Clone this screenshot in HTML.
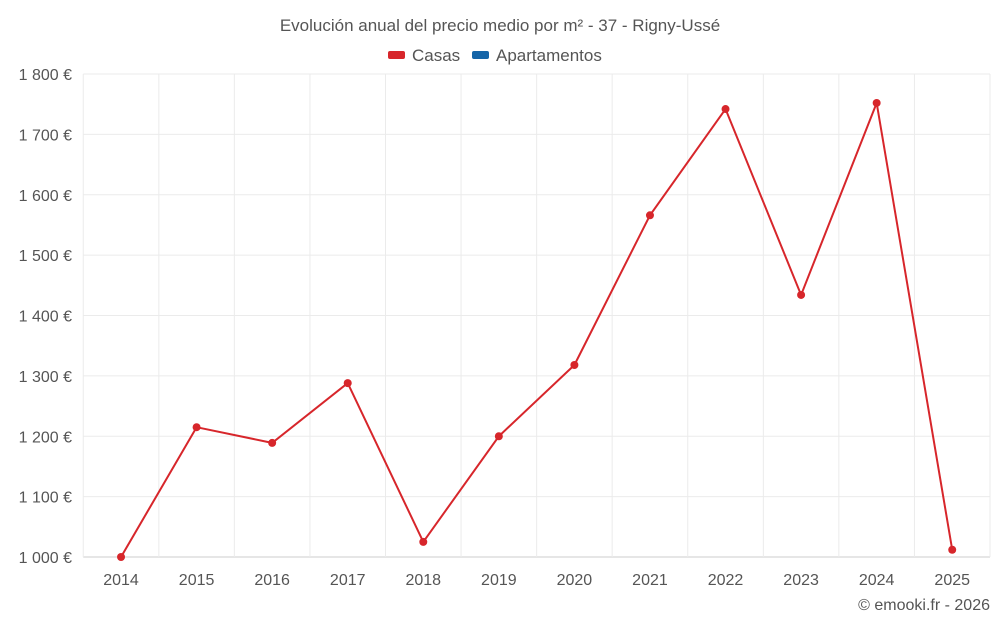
<!DOCTYPE html>
<html><head><meta charset="utf-8"><style>
body{margin:0;background:#fff;font-family:"Liberation Sans",sans-serif;}
svg text{font-family:"Liberation Sans",sans-serif;fill:#555;}
</style></head><body>
<svg id="chart" width="1000" height="625">
<text x="500" y="31" text-anchor="middle" font-size="17">Evolución anual del precio medio por m² - 37 - Rigny-Ussé</text>
<g><rect x="388" y="51" width="17" height="8" rx="2" fill="#d7262b"/><text x="412" y="61" font-size="17">Casas</text></g>
<g><rect x="472" y="51" width="17" height="8" rx="2" fill="#1565a8"/><text x="496" y="61" font-size="17">Apartamentos</text></g>
<g id="grid"></g><g id="axes"></g><g id="series"></g>
<text x="990" y="610" text-anchor="end" font-size="16">© emooki.fr - 2026</text>
</svg>
<script>
const categories=["2014","2015","2016","2017","2018","2019","2020","2021","2022","2023","2024","2025"];
const casas=[1000,1215,1189,1288,1025,1200,1318,1566,1742,1434,1752,1012];
const yTicks=[1000,1100,1200,1300,1400,1500,1600,1700,1800];
const yLabels=["1 000 €","1 100 €","1 200 €","1 300 €","1 400 €","1 500 €","1 600 €","1 700 €","1 800 €"];
const L=83.25,R=990,T=74,B=557,yMin=1000,yMax=1800;
const bw=(R-L)/categories.length;
const x=i=>L+bw*(i+0.5);
const y=v=>B-(v-yMin)/(yMax-yMin)*(B-T);
const NS="http://www.w3.org/2000/svg";
function mk(tag,at,parent){const e=document.createElementNS(NS,tag);for(const k in at)e.setAttribute(k,at[k]);parent.appendChild(e);return e;}
const grid=document.getElementById('grid'),axes=document.getElementById('axes'),ser=document.getElementById('series');
yTicks.forEach((t,i)=>{
 const l=mk('line',{x1:L,x2:R,y1:y(t),y2:y(t),stroke:i==0?'#ccc':'#ebebeb','stroke-width':1},grid);
 
 
 const tx=mk('text',{x:72,y:y(t)+6,'text-anchor':'end','font-size':16},axes);tx.textContent=yLabels[i];
 
 
});
for(let i=0;i<=categories.length;i++){
 const gx=L+bw*i;
 const l=mk('line',{x1:gx,x2:gx,y1:T,y2:B,stroke:'#ebebeb','stroke-width':1},grid);
 
 
}
categories.forEach((c,i)=>{
 const tx=mk('text',{x:x(i),y:585,'text-anchor':'middle','font-size':16},axes);tx.textContent=c;
 
 
});
const pl=mk('polyline',{points:casas.map((v,i)=>x(i)+','+y(v)).join(' '),fill:'none',stroke:'#d7262b','stroke-width':2},ser);


casas.forEach((v,i)=>{
 const c=mk('circle',{cx:x(i),cy:y(v),r:4,fill:'#d7262b'},ser);
 
 
});
</script>
</body></html>
